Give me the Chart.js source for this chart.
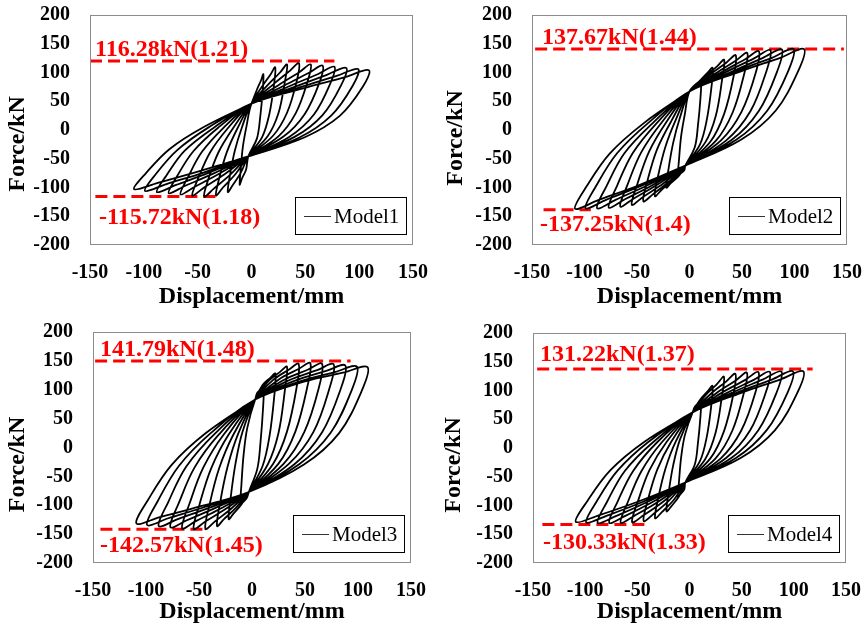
<!DOCTYPE html>
<html>
<head>
<meta charset="utf-8">
<script src="https://cdn.jsdelivr.net/npm/chart.js@4/dist/chart.umd.min.js"></script>
<style>
  html, body { margin: 0; padding: 0; background: #fff; }
  #wrap { position: relative; width: 867px; height: 630px; }
  canvas { position: absolute; }
</style>
</head>
<body>
<div id="wrap">
  <canvas id="c1" width="433" height="315" style="left:0;top:0"></canvas>
  <canvas id="c2" width="434" height="315" style="left:433px;top:0"></canvas>
  <canvas id="c3" width="433" height="315" style="left:0;top:315px"></canvas>
  <canvas id="c4" width="434" height="315" style="left:433px;top:315px"></canvas>
</div>
<script>
// axis ranges (mm, kN)
const dispRange = [-150, 150];
const forceRange = [-200, 200];

// hysteresis loops, one cycle per line: [displacement, force]
const model1Loop = [
  [0,46],[5,70],[9,87],[11,97],[10.5,70],[8,21],[5,-15],[-3,-46],[-5,-68.5],[-9,-85],[-11,-95],[-10,-68],[-8,-29],[-4.5,8],
  [0,46],[10,76],[17.5,96],[22,109],[21,80],[16.5,27],[10,-12],[-3,-46],[-10,-74.5],[-17.5,-96],[-22,-108],[-20,-79],[-15.5,-36],[-9,4],
  [0,46],[15,78],[26.5,100],[33,114],[31,84],[25,29],[15,-11],[-3,-46],[-15,-77],[-26.5,-100],[-33,-114],[-30,-84],[-23,-39],[-13,3],
  [0,46],[20,79],[35,102],[44,116],[42,85],[33,30],[20,-10],[-3,-46],[-20,-78],[-35,-102],[-44,-116],[-40,-85],[-31,-40],[-17.5,2],
  [0,46],[25,78],[44,100],[55,114],[52,84],[41,29],[25,-11],[-3,-46],[-25,-77],[-44,-100],[-55,-114],[-49.5,-84],[-38.5,-39],[-22,3],
  [0,46],[30,77],[53,99],[66,112],[63,82],[49.5,28],[30,-11],[-3,-46],[-30,-76],[-53,-99],[-66,-112],[-59,-82],[-46,-38],[-26.5,3],
  [0,46],[35,76],[61.5,97],[77,110],[73,80],[58,27],[35,-12],[-3,-46],[-35,-75.5],[-61.5,-97],[-77,-110],[-69,-80],[-54,-37],[-31,4],
  [0,46],[40,75],[70,96],[88,108],[83.5,79],[66,26],[40,-12],[-3,-46],[-40,-74.5],[-70,-95.5],[-88,-108],[-79,-79],[-62,-36],[-35,4],
  [0,46],[44.5,74],[79,94],[99,106],[94,77],[74,25],[44.5,-13],[-3,-46],[-44.5,-74],[-79,-94],[-99,-106],[-89,-77],[-69,-35],[-39.5,5],
  [0,46],[49,73],[87,92],[109,104],[103.5,75.5],[82,24.5],[49,-13],[-3,-46],[-49,-72],[-87,-92],[-109,-103],[-98,-75],[-76,-33],[-43.5,6],
  [0,46]
];
const model2Loop = [
  [0,67],[5,75.5],[9,81],[11,85],[10.5,57],[8,7],[5,-30],[-4,-62],[-5,-70],[-9,-76],[-11,-80],[-10,-52],[-8,-11],[-4.5,27],
  [0,67],[10,86],[17.5,100],[22,108],[21,76],[16.5,18],[10,-25],[-4,-62],[-10,-79.5],[-17.5,-92],[-22,-100],[-20,-68],[-15.5,-22],[-9,22],
  [0,67],[15,93],[26.5,111],[33,122],[31,87],[25,24.5],[15,-21.5],[-4,-62],[-15,-86],[-26.5,-104],[-33,-115],[-30,-80.5],[-23,-29.5],[-13,18],
  [0,67],[20,97],[35,117],[44,130],[42,93.5],[33,28],[20,-20],[-4,-62],[-20,-90.5],[-35,-112],[-44,-124],[-40,-88],[-31,-34],[-17.5,15],
  [0,67],[25,98.5],[44,120.5],[55,134],[52,97],[41,30],[25,-19],[-4,-62],[-25,-93],[-44,-116],[-55,-130],[-49.5,-93],[-38.5,-37.5],[-22,14],
  [0,67],[30,100],[53,123],[66,137],[63,99],[49.5,31.5],[30,-18],[-4,-62],[-30,-94.5],[-53,-119],[-66,-133],[-59,-95],[-46,-39],[-26.5,13],
  [0,67],[35,101],[61.5,124.5],[77,139],[73,101],[58,32.5],[35,-18],[-4,-62],[-35,-95.5],[-61.5,-120.5],[-77,-135],[-69,-97],[-54,-40],[-31,12.5],
  [0,67],[40,101],[70,125.5],[88,140],[83.5,102],[66,33],[40,-17.5],[-4,-62],[-40,-96],[-70,-121],[-88,-136],[-79,-97.5],[-62,-40.5],[-35,12],
  [0,67],[44.5,102],[79,126],[99,141],[94,102.5],[74,33.5],[44.5,-17],[-4,-62],[-44.5,-96],[-79,-121],[-99,-136],[-89,-97.5],[-69,-40.5],[-39.5,12],
  [0,67],[49,102],[87,126],[109,141],[103.5,102.5],[82,33.5],[49,-17],[-4,-62],[-49,-96.5],[-87,-122],[-109,-137],[-98,-98],[-76,-41],[-43.5,12],
  [0,67]
];
const model3Loop = [
  [3,83],[5,95],[9,101.5],[11,105],[10.5,70.5],[8,8.5],[5,-37],[-3,-77],[-5,-87.5],[-9,-95.5],[-11,-100],[-10,-65],[-8,-14],[-4.5,33.5],
  [3,83],[10,108],[17.5,121],[22,128],[21,89],[16.5,19.5],[10,-32],[-3,-77],[-10,-98.5],[-17.5,-114.5],[-22,-124],[-20,-85],[-15.5,-27],[-9,27],
  [3,83],[15,114],[26.5,131],[33,140],[31,99],[25,25],[15,-29],[-3,-77],[-15,-104],[-26.5,-124],[-33,-136],[-30,-94.5],[-23,-33],[-13,24],
  [3,83],[20,117],[35,135],[44,145],[42,103],[33,27.5],[20,-28],[-3,-77],[-20,-106.5],[-35,-128],[-44,-141],[-40,-98.5],[-31,-36],[-17.5,22.5],
  [3,83],[25,117.5],[44,136],[55,146],[52,103.5],[41,28],[25,-28],[-3,-77],[-25,-106.5],[-44,-128],[-55,-141],[-49.5,-98.5],[-38.5,-36],[-22,22.5],
  [3,83],[30,117],[53,135],[66,145],[63,103],[49.5,27.5],[30,-28],[-3,-77],[-30,-106],[-53,-127.5],[-66,-140],[-59,-97.5],[-46,-35],[-26.5,23],
  [3,83],[35,116.5],[61.5,134],[77,144],[73,102],[58,27],[35,-28],[-3,-77],[-35,-105],[-61.5,-126],[-77,-138],[-69,-96],[-54,-34],[-31,23],
  [3,83],[40,115.5],[70,132.5],[88,142],[83.5,100.5],[66,26],[40,-29],[-3,-77],[-40,-104],[-70,-124],[-88,-136],[-79,-94.5],[-62,-33],[-35,24],
  [3,83],[44.5,114],[79,131],[99,140],[94,99],[74,25],[44.5,-29],[-3,-77],[-44.5,-103],[-79,-122.5],[-99,-134],[-89,-93],[-69,-32],[-39.5,24],
  [3,83],[49,114],[87,130],[109,139],[103.5,98],[82,24.5],[49,-29.5],[-3,-77],[-49,-102],[-87,-120.5],[-109,-131.5],[-98,-90.5],[-76,-30.5],[-43.5,25],
  [3,83]
];
const model4Loop = [
  [3,62],[5,71.5],[9,78],[11,82],[10.5,55],[8,7],[5,-29],[-4,-60],[-5,-72],[-9,-81],[-11,-85],[-10,-57],[-8,-16],[-4.5,22],
  [3,62],[10,83.5],[17.5,99],[22,108],[21,76],[16.5,19],[10,-23],[-4,-60],[-10,-84],[-17.5,-101.5],[-22,-110],[-20,-77.5],[-15.5,-29],[-9,15.5],
  [3,62],[15,91],[26.5,111.5],[33,124],[31,89],[25,26.5],[15,-19.5],[-4,-60],[-15,-90],[-26.5,-111.5],[-33,-122],[-30,-87],[-23,-35.5],[-13,12],
  [3,62],[20,93.5],[35,115.5],[44,129],[42,93],[33,29],[20,-18],[-4,-60],[-20,-92],[-35,-115.5],[-44,-127],[-40,-91],[-31,-38],[-17.5,11],
  [3,62],[25,94.5],[44,117],[55,131],[52,95],[41,30],[25,-18],[-4,-60],[-25,-93],[-44,-117],[-55,-129],[-49.5,-93],[-38.5,-39],[-22,10.5],
  [3,62],[30,95],[53,118],[66,132],[63,95.5],[49.5,30],[30,-18],[-4,-60],[-30,-93.5],[-53,-118],[-66,-130],[-59,-93.5],[-46,-40],[-26.5,10],
  [3,62],[35,95],[61.5,118.5],[77,132.5],[73,96],[58,30.5],[35,-17.5],[-4,-60],[-35,-93.5],[-61.5,-118],[-77,-130],[-69,-93.5],[-54,-40],[-31,10],
  [3,62],[40,95.5],[70,119],[88,133],[83.5,96.5],[66,31],[40,-17.5],[-4,-60],[-40,-93.5],[-70,-118],[-88,-130],[-79,-93.5],[-62,-40],[-35,10],
  [3,62],[44.5,95.5],[79,119],[99,133.5],[94,96.5],[74,31],[44.5,-17.5],[-4,-60],[-44.5,-93.5],[-79,-117.5],[-99,-129.5],[-89,-93],[-69,-39.5],[-39.5,10.5],
  [3,62],[49,95.5],[87,119],[109,133.5],[103.5,96.5],[82,31],[49,-17.5],[-4,-60],[-49,-93],[-87,-117],[-109,-128.5],[-98,-92.5],[-76,-39],[-43.5,10.5],
  [3,62]
];

// red dashed peak-load markers as drawn in the figure
const model1TopLine = [[-150,120],[77,120]];
const model1BottomLine = [[-145,-115.7],[-32,-115.7]];
const model2TopLine = [[-147,141],[147,141]];
const model2BottomLine = [[-139,-138.5],[-94,-138.5]];
const model3TopLine = [[-148,150],[93,150]];
const model3BottomLine = [[-143,-141.5],[-44,-141.5]];
const model4TopLine = [[-146,137.6],[118,137.6]];
const model4BottomLine = [[-141,-133],[-41,-133]];

const model1Notes = ["116.28kN(1.21)", "-115.72kN(1.18)"];
const model2Notes = ["137.67kN(1.44)", "-137.25kN(1.4)"];
const model3Notes = ["141.79kN(1.48)", "-142.57kN(1.45)"];
const model4Notes = ["131.22kN(1.37)", "-130.33kN(1.33)"];

const FONT = "Liberation Serif";

// frame, y title, red notes and the boxed legend
const panelDecor = {
  id: "panelDecor",
  afterDatasetsDraw(chart, args, opts) {
    const ctx = chart.ctx;
    const a = chart.chartArea;
    const y = chart.scales.y;
    ctx.save();
    ctx.strokeStyle = "#8c8c8c";
    ctx.lineWidth = 1;
    ctx.strokeRect(a.left + 0.5, a.top + 0.5, a.width - 1, a.height - 1);

    // y axis title, sitting a little below the middle as in the figure
    ctx.save();
    ctx.translate(opts.titleX, (a.top + a.bottom) / 2 + opts.titleDy);
    ctx.rotate(-Math.PI / 2);
    ctx.fillStyle = "#000";
    ctx.font = "bold 24px '" + FONT + "'";
    ctx.textAlign = "center";
    ctx.textBaseline = "middle";
    ctx.fillText("Force/kN", 0, 0);
    ctx.restore();

    ctx.fillStyle = "#ff0000";
    ctx.font = "bold 24px '" + FONT + "'";
    ctx.textAlign = "left";
    ctx.textBaseline = "alphabetic";
    ctx.fillText(opts.notes[0], a.left + opts.topOff[0], y.getPixelForValue(opts.topValue) + opts.topOff[1]);
    ctx.fillText(opts.notes[1], a.left + opts.botOff[0], y.getPixelForValue(opts.botValue) + opts.botOff[1]);

    const bw = 111, bh = 37;
    const bx = Math.round(a.right - 7 - bw), by = Math.round(a.bottom - 11 - bh);
    ctx.fillStyle = "#fff";
    ctx.fillRect(bx, by, bw, bh);
    ctx.strokeStyle = "#000";
    ctx.strokeRect(bx + 0.5, by + 0.5, bw, bh);
    ctx.beginPath();
    ctx.moveTo(bx + 9, by + 19.5);
    ctx.lineTo(bx + 36, by + 19.5);
    ctx.strokeStyle = "#333";
    ctx.stroke();
    ctx.fillStyle = "#000";
    ctx.font = "21px '" + FONT + "'";
    ctx.textBaseline = "middle";
    ctx.fillText(chart.data.datasets[0].label, bx + 39, by + 20);
    ctx.restore();
  }
};

function makePanel(id, label, loop, topLine, bottomLine, notes, box, topOff, botOff) {
  const dashed = {
    showLine: true,
    borderColor: "#ff0000",
    borderWidth: 3,
    borderDash: [12, 6],
    pointRadius: 0,
    tension: 0
  };
  new Chart(document.getElementById(id), {
    type: "scatter",
    data: {
      datasets: [
        {
          label: label,
          data: loop,
          showLine: true,
          borderColor: "#000",
          borderWidth: 1.8,
          pointRadius: 0,
          tension: 0.35,
          borderJoinStyle: "round"
        },
        Object.assign({ label: "top", data: topLine }, dashed),
        Object.assign({ label: "bottom", data: bottomLine }, dashed)
      ]
    },
    options: {
      responsive: false,
      animation: false,
      devicePixelRatio: 1,
      layout: { padding: { left: box.padL, right: box.padR, top: box.padT, bottom: 0 } },
      plugins: {
        legend: { display: false },
        tooltip: { enabled: false },
        panelDecor: {
          notes: notes,
          topValue: topLine[0][1],
          botValue: bottomLine[0][1],
          topOff: topOff,
          botOff: botOff,
          titleX: box.padL + 18,
          titleDy: box.titleDy
        }
      },
      scales: {
        x: {
          type: "linear",
          min: dispRange[0],
          max: dispRange[1],
          grid: { display: false, drawTicks: false },
          border: { display: false },
          ticks: {
            stepSize: 50,
            padding: 16,
            color: "#000",
            font: { family: FONT, weight: "bold", size: 20 }
          },
          title: {
            display: true,
            text: "Displacement/mm",
            color: "#000",
            padding: { top: 0, bottom: 4 },
            font: { family: FONT, weight: "bold", size: 24 }
          },
          afterFit(s) {
            s.height = box.xh;
            s.paddingLeft = 0;
            s.paddingRight = 0;
          }
        },
        y: {
          type: "linear",
          min: forceRange[0],
          max: forceRange[1],
          grid: { display: false, drawTicks: false },
          border: { display: false },
          ticks: {
            stepSize: 50,
            padding: 20,
            color: "#000",
            font: { family: FONT, weight: "bold", size: 20 }
          },
          title: { display: false },
          afterFit(s) {
            s.width = box.yw;
            s.paddingTop = 0;
            s.paddingBottom = 0;
          }
        }
      }
    },
    plugins: [panelDecor]
  });
}

makePanel("c1", "Model1", model1Loop, model1TopLine, model1BottomLine, model1Notes,
  { padL: 0, yw: 90, padR: 20, padT: 15, xh: 70, titleDy: 14 }, [5, -5], [9, 27]);
makePanel("c2", "Model2", model2Loop, model2TopLine, model2BottomLine, model2Notes,
  { padL: 5, yw: 94, padR: 20, padT: 15, xh: 70, titleDy: 8 }, [10, -5], [8, 21]);
makePanel("c3", "Model3", model3Loop, model3TopLine, model3BottomLine, model3Notes,
  { padL: 0, yw: 93, padR: 22, padT: 17, xh: 67, titleDy: 17 }, [7, -5], [7, 23]);
makePanel("c4", "Model4", model4Loop, model4TopLine, model4BottomLine, model4Notes,
  { padL: 3, yw: 97, padR: 21, padT: 18, xh: 67, titleDy: 17 }, [7, -8], [10, 25]);
</script>
</body>
</html>
